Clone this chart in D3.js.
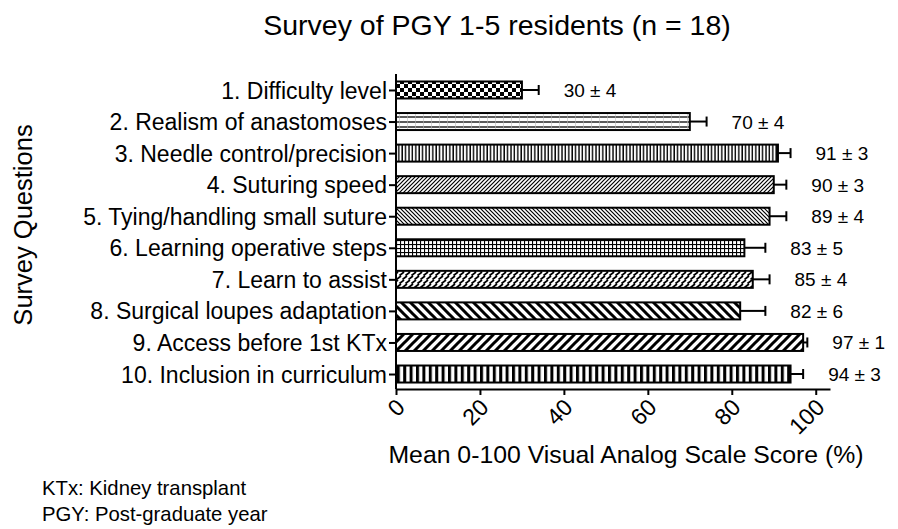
<!DOCTYPE html>
<html>
<head>
<meta charset="utf-8">
<script src="https://cdn.jsdelivr.net/npm/d3@7"></script>
<style>
  body { margin: 0; background: #fff; }
  text { font-family: "Liberation Sans", Arial, sans-serif; fill: #000; }
</style>
</head>
<body>
<div id="chart"></div>
<script>
const questions = [
    "1. Difficulty level",
    "2. Realism of anastomoses",
    "3. Needle control/precision",
    "4. Suturing speed",
    "5. Tying/handling small suture",
    "6. Learning operative steps",
    "7. Learn to assist",
    "8. Surgical loupes adaptation",
    "9. Access before 1st KTx",
    "10. Inclusion in curriculum"
];
const means = [30, 70, 91, 90, 89, 83, 85, 82, 97, 94];
const sems = [4, 4, 3, 3, 4, 5, 4, 6, 1, 3];
const xTicks = [0, 20, 40, 60, 80, 100];
const footnotes = ["KTx: Kidney transplant", "PGY: Post-graduate year"];

const width = 898, height = 529;
const barH = 17;

const svg = d3.select("#chart").append("svg")
    .attr("width", width)
    .attr("height", height);

// fill patterns, one per bar
const defs = svg.append("defs");
function pat(id, w, h, draw) {
    const p = defs.append("pattern")
        .attr("id", id)
        .attr("patternUnits", "userSpaceOnUse")
        .attr("width", w).attr("height", h);
    p.append("rect").attr("width", w).attr("height", h).attr("fill", "#fff");
    draw(p);
}
pat("p0", 8, 8, p => {
    p.append("rect").attr("width", 4).attr("height", 4).attr("fill", "#000");
    p.append("rect").attr("x", 4).attr("y", 4).attr("width", 4).attr("height", 4).attr("fill", "#000");
});
pat("p1", 8, 5, p => {
    p.append("line").attr("x1", 0).attr("x2", 8).attr("y1", 2).attr("y2", 2).attr("stroke", "#333").attr("stroke-width", 1.6);
    p.append("line").attr("x1", 7.5).attr("x2", 7.5).attr("y1", 0).attr("y2", 5).attr("stroke", "#bbb").attr("stroke-width", 0.6);
});
pat("p2", 3.4, 4, p => {
    p.append("line").attr("x1", 1).attr("x2", 1).attr("y1", 0).attr("y2", 4).attr("stroke", "#000").attr("stroke-width", 1.4);
});
pat("p3", 4, 4, p => {
    p.append("path").attr("d", "M-1,5L5,-1M-1,1L1,-1M3,5L5,3").attr("stroke", "#000").attr("stroke-width", 1.2);
});
pat("p4", 4, 4, p => {
    p.append("path").attr("d", "M-1,-1L5,5M-1,3L1,5M3,-1L5,1").attr("stroke", "#000").attr("stroke-width", 1.2);
});
pat("p5", 4, 4, p => {
    p.append("line").attr("x1", 0).attr("x2", 4).attr("y1", 0.5).attr("y2", 0.5).attr("stroke", "#000").attr("stroke-width", 1.2);
    p.append("line").attr("x1", 0.5).attr("x2", 0.5).attr("y1", 0).attr("y2", 4).attr("stroke", "#000").attr("stroke-width", 1.2);
});
pat("p6", 6, 8, p => {
    p.append("path").attr("d", "M0.5,7.5L5,4M3.5,3.5L8,0M-2.5,3.5L2,0").attr("stroke", "#000").attr("stroke-width", 1.8).attr("fill", "none");
});
pat("p7", 9, 9, p => {
    p.append("path").attr("d", "M-2,-2L11,11M-2,7L2,11M7,-2L11,2").attr("stroke", "#000").attr("stroke-width", 3);
});
pat("p8", 9, 9, p => {
    p.append("path").attr("d", "M-2,11L11,-2M-2,2L2,-2M7,11L11,7").attr("stroke", "#000").attr("stroke-width", 3);
});
pat("p9", 6.4, 20, p => {
    p.append("rect").attr("x", 0).attr("width", 3).attr("height", 20).attr("fill", "#000");
    p.append("line").attr("x1", 0).attr("x2", 6.4).attr("y1", 2.5).attr("y2", 2.5).attr("stroke", "#999").attr("stroke-width", 0.8);
});

const x = d3.scaleLinear().domain([0, 103.4]).range([396, 830]);
const y = d3.scalePoint().domain(questions).range([74.2, 389.8]).padding(0.5);
const axisY = 389;

const rows = questions.map((q, i) => ({ q, i, m: means[i], s: sems[i] }));

// bars
svg.append("g").selectAll("rect")
    .data(rows).enter().append("rect")
    .attr("x", x(0))
    .attr("y", d => y(d.q) - barH / 2)
    .attr("width", d => x(d.m) - x(0))
    .attr("height", barH)
    .attr("fill", d => `url(#p${d.i})`)
    .attr("stroke", "#000")
    .attr("stroke-width", 2);

// error bars (upper only)
const eb = svg.append("g").attr("stroke", "#000").attr("stroke-width", 2);
rows.forEach(d => {
    eb.append("line")
        .attr("x1", x(d.m)).attr("x2", x(d.m + d.s))
        .attr("y1", y(d.q)).attr("y2", y(d.q));
    eb.append("line")
        .attr("x1", x(d.m + d.s)).attr("x2", x(d.m + d.s))
        .attr("y1", y(d.q) - 5).attr("y2", y(d.q) + 5);
});

// value labels
svg.append("g").selectAll("text")
    .data(rows).enter().append("text")
    .attr("x", d => x(d.m + d.s) + 25)
    .attr("y", d => y(d.q) + 7)
    .attr("font-size", 19)
    .text(d => `${d.m} ± ${d.s}`);

// y axis
const yAxis = svg.append("g")
    .attr("transform", `translate(${x(0)},0)`)
    .call(d3.axisLeft(y).tickSize(7).tickPadding(2));
yAxis.select(".domain").attr("d", `M0,74V${axisY}`).attr("stroke-width", 2);
yAxis.selectAll(".tick line").attr("stroke-width", 2);
yAxis.selectAll(".tick text")
    .attr("font-size", 23)
    .attr("font-family", "Liberation Sans, Arial, sans-serif")
    .attr("dy", "0.35em");

// x axis
const xAxis = svg.append("g")
    .attr("transform", `translate(0,${axisY})`)
    .call(d3.axisBottom(x).tickValues(xTicks).tickSize(6).tickSizeOuter(0));
xAxis.select(".domain").attr("stroke-width", 2);
xAxis.selectAll(".tick line").attr("stroke-width", 2);
xAxis.selectAll(".tick text")
    .attr("font-size", 23)
    .attr("font-family", "Liberation Sans, Arial, sans-serif")
    .attr("text-anchor", "end")
    .attr("dy", "0.35em")
    .attr("transform", "translate(4,14) rotate(-45)")
    .attr("y", 0).attr("x", 0);

// titles
svg.append("text")
    .attr("x", 497).attr("y", 35)
    .attr("text-anchor", "middle")
    .attr("font-size", 28.5)
    .text("Survey of PGY 1-5 residents (n = 18)");

svg.append("text")
    .attr("transform", "translate(32,225) rotate(-90)")
    .attr("text-anchor", "middle")
    .attr("font-size", 25.5)
    .text("Survey Questions");

svg.append("text")
    .attr("x", 626).attr("y", 463)
    .attr("text-anchor", "middle")
    .attr("font-size", 24.8)
    .text("Mean 0-100 Visual Analog Scale Score (%)");

svg.append("g").selectAll("text")
    .data(footnotes).enter().append("text")
    .attr("x", 42)
    .attr("y", (d, i) => 495 + i * 26)
    .attr("font-size", 20.3)
    .text(d => d);
</script>
</body>
</html>
